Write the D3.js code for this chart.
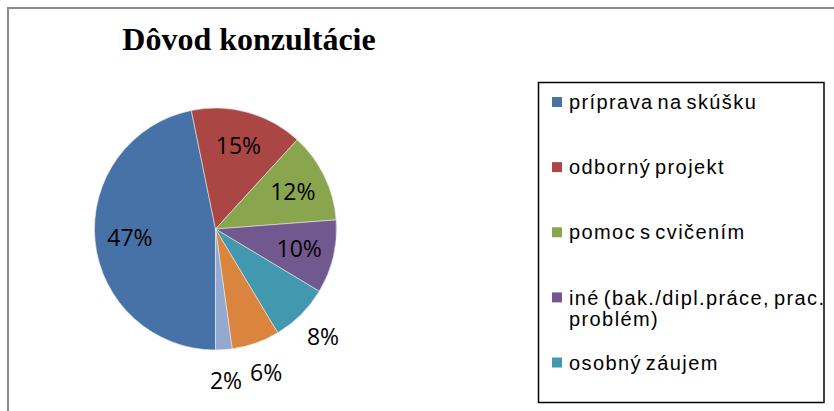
<!DOCTYPE html>
<html>
<head>
<meta charset="utf-8">
<script src="https://cdn.jsdelivr.net/npm/d3@7"></script>
<style>
  body { margin: 0; background: #fff; }
</style>
</head>
<body>
<div id="chart"></div>
<script>
// data
let categories = ["príprava na skúšku", "odborný projekt", "pomoc s cvičením",
    "iné (bak./dipl.práce, prac. problém)", "osobný záujem", "iné", "nevie"];
let values = [46.8, 15.0, 12.0, 9.8, 7.8, 6.4, 2.2];
let labels = ["47%", "15%", "12%", "10%", "8%", "6%", "2%"];
let colors = ["#4672A8", "#AA4643", "#89A54E", "#71588F", "#4198AF", "#DB843D", "#93A9CF"];
// legend lines (the legend box cuts off the last entries)
let legendLines = [["príprava na skúšku"], ["odborný projekt"], ["pomoc s cvičením"],
    ["iné (bak./dipl.práce, prac.", "problém)"], ["osobný záujem"]];

let width = 834, height = 411;
let cx = 215.5, cy = 229, radius = 121;

var svg = d3.select("#chart").append("svg")
    .attr("width", width)
    .attr("height", height);

// outer chart border
svg.append("path")
    .attr("d", "M8,420 L8,8 L840,8")
    .attr("fill", "none")
    .attr("stroke", "#8c8c8c")
    .attr("stroke-width", 2);

// title
svg.append("text")
    .attr("x", 249)
    .attr("y", 50)
    .attr("text-anchor", "middle")
    .style("font-family", "'Liberation Serif', 'Times New Roman', serif")
    .style("font-weight", "bold")
    .style("font-size", "32px")
    .text("Dôvod konzultácie");

var pie = d3.pie()
    .sort(null)
    .value(function (d) { return d; })
    .startAngle(Math.PI)          // first slice begins at 6 o'clock
    .endAngle(3 * Math.PI);

var arcs = pie(values);

var g = svg.append("g")
    .attr("transform", "translate(" + cx + "," + cy + ")");

g.selectAll("path")
    .data(arcs)
    .enter()
    .append("path")
    .attr("fill", function (d, i) { return colors[i]; })
    .attr("stroke", "#e8e8e8")
    .attr("stroke-width", 0.6)
    .attr("d", d3.arc().innerRadius(0).outerRadius(radius));

// labels: inside for big slices, outside for small ones
var inArc = d3.arc().innerRadius(86).outerRadius(86);
var outArc = d3.arc().innerRadius(152).outerRadius(152);

g.selectAll("text")
    .data(arcs)
    .enter()
    .append("text")
    .attr("transform", function (d) {
        var p = d.data < 9 ? outArc.centroid(d) : inArc.centroid(d);
        return "translate(" + p[0] + "," + p[1] + ")";
    })
    .attr("text-anchor", "middle")
    .attr("dy", "0.36em")
    .style("font-family", "'Open Sans', sans-serif")
    .style("font-size", "23px")
    .style("fill", "#000")
    .text(function (d, i) { return labels[i]; });

// legend
var legend = svg.append("g");
legend.append("rect")
    .attr("x", 538.5)
    .attr("y", 82.5)
    .attr("width", 285.5)
    .attr("height", 320)
    .attr("fill", "#fff")
    .attr("stroke", "#000")
    .attr("stroke-width", 1.5);

var ly = d3.scalePoint()
    .domain(d3.range(legendLines.length))
    .range([102, 362.5]);

var items = legend.selectAll("g.item")
    .data(legendLines)
    .enter()
    .append("g")
    .attr("class", "item")
    .attr("transform", function (d, i) { return "translate(0," + ly(i) + ")"; });

items.append("rect")
    .attr("x", 552)
    .attr("y", -5)
    .attr("width", 10)
    .attr("height", 10)
    .attr("fill", function (d, i) { return colors[i]; });

items.each(function (lines) {
    var t = d3.select(this).append("text")
        .attr("x", 569)
        .attr("y", 0)
        .style("font-family", "'Liberation Sans', Arial, sans-serif")
        .style("font-size", "20px")
        .style("letter-spacing", "1.4px")
        .style("word-spacing", "-3px")
        .style("fill", "#000");
    lines.forEach(function (s, k) {
        t.append("tspan")
            .attr("x", 569)
            .attr("dy", k == 0 ? "0.36em" : "21px")
            .text(s);
    });
});
</script>
</body>
</html>
